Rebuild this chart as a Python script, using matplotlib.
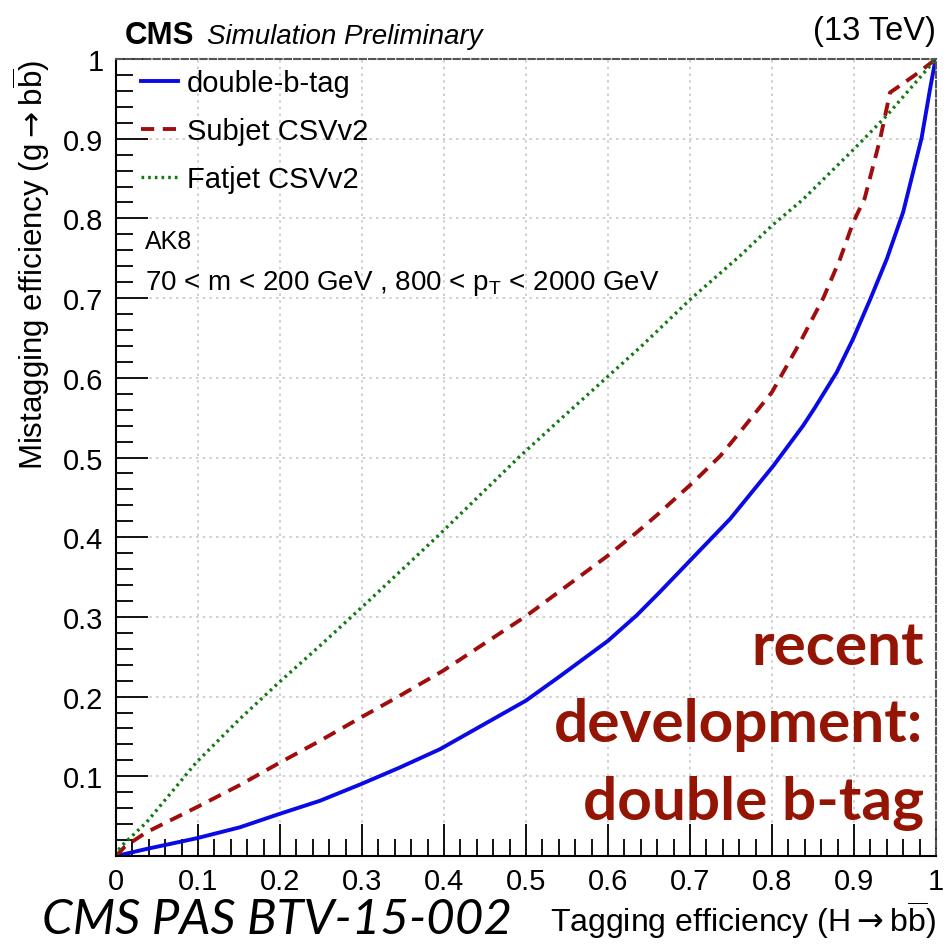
import numpy as np
import matplotlib
matplotlib.use('Agg')
import matplotlib.pyplot as plt
from matplotlib.ticker import MultipleLocator, FuncFormatter

plt.rcParams['font.family'] = ['Liberation Sans', 'DejaVu Sans']

# ROC curves: tagging efficiency (H->bb) vs mistag efficiency (g->bb)
dbt_x = [0, 0.037, 0.098, 0.151, 0.199, 0.249, 0.299, 0.346, 0.395, 0.5, 0.542, 0.6,
         0.635, 0.663, 0.749, 0.802, 0.838, 0.852, 0.879, 0.899, 0.92, 0.94, 0.96,
         0.9825, 0.9927, 0.9988, 1.0]
dbt_y = [0, 0.0088, 0.0222, 0.036, 0.0527, 0.0694, 0.0903, 0.111, 0.134, 0.195, 0.226, 0.270,
         0.302, 0.331, 0.423, 0.490, 0.540, 0.562, 0.607, 0.649, 0.699, 0.749, 0.808,
         0.901, 0.962, 0.996, 1.0]

subjet_x = [0, 0.011, 0.037, 0.098, 0.151, 0.199, 0.249, 0.299, 0.346, 0.399, 0.5, 0.6,
            0.635, 0.66, 0.704, 0.737, 0.761, 0.800, 0.834, 0.863, 0.883, 0.899, 0.913,
            0.932, 0.938, 0.944, 0.956, 0.976, 1.0]
subjet_y = [0, 0.012, 0.0297, 0.061, 0.089, 0.1167, 0.1447, 0.174, 0.201, 0.2325, 0.301, 0.377,
            0.406, 0.428, 0.469, 0.502, 0.532, 0.582, 0.644, 0.701, 0.749, 0.795, 0.825,
            0.9, 0.929, 0.958, 0.9665, 0.981, 1.0]

fatjet_x = [0, 0.005, 0.037, 0.098, 0.151, 0.199, 0.249, 0.306, 0.391, 0.491, 0.542, 0.639,
            0.701, 0.761, 0.800, 0.838, 0.900, 0.94, 1.0]
fatjet_y = [0, 0.011, 0.042, 0.1175, 0.172, 0.218, 0.264, 0.318, 0.40, 0.50, 0.548, 0.638,
            0.699, 0.753, 0.791, 0.824, 0.887, 0.929, 1.0]

labels = ['double-b-tag', 'Subjet CSVv2', 'Fatjet CSVv2']

fig = plt.figure(figsize=(9.46, 9.45), dpi=100)
ax = fig.add_axes([0.1226, 0.0931, 0.8668, 0.8434])

ax.plot(dbt_x, dbt_y, color='#0a0ae6', lw=2.8, ls='-', label=labels[0])
ax.plot(subjet_x, subjet_y, color='#a00d0d', lw=2.8, ls=(0, (3.4, 2.2)), label=labels[1])
ax.plot(fatjet_x, fatjet_y, color='#137a13', lw=2.4, ls=(0, (0.8, 1.2)), label=labels[2])

ax.set_xlim(0, 1)
ax.set_ylim(0, 1)

# ROOT style axes
ax.xaxis.set_major_locator(MultipleLocator(0.1))
ax.xaxis.set_minor_locator(MultipleLocator(0.02))
ax.yaxis.set_major_locator(MultipleLocator(0.1))
ax.yaxis.set_minor_locator(MultipleLocator(0.02))
ax.xaxis.set_major_formatter(FuncFormatter(lambda v, p: '%g' % round(v, 2)))
ax.yaxis.set_major_formatter(FuncFormatter(lambda v, p: '' if abs(v) < 1e-6 else '%g' % round(v, 2)))
ax.tick_params(which='major', direction='in', length=23, width=1.3, labelsize=21, pad=9,
               top=False, right=False)
ax.tick_params(which='minor', direction='in', length=12, width=1.3, top=False, right=False)
ax.tick_params(axis='x', which='major', pad=8)
ax.grid(True, which='major', color='#c8c8c8', ls=(0, (1.5, 2.5)), lw=1.2)

for s in ['left', 'bottom']:
    ax.spines[s].set_linewidth(1.5)
for s in ['top', 'right']:
    ax.spines[s].set_color('#555555')
    ax.spines[s].set_linestyle((0, (3, 1.5)))
    ax.spines[s].set_linewidth(1.5)

ax.set_xlabel('Tagging efficiency (H$\\rightarrow$b$\\overline{\\mathregular{b}}$)', fontsize=23,
              loc='right', labelpad=2)
ax.set_ylabel('Mistagging efficiency (g$\\rightarrow$b$\\overline{\\mathregular{b}}$)', fontsize=22.5,
              loc='top', labelpad=8)

leg = ax.legend(loc='upper left', bbox_to_anchor=(0.031, 0.9875), frameon=False, fontsize=21,
                handlelength=1.27, handletextpad=0.29, labelspacing=0.69, borderaxespad=0,
                borderpad=0)

ax.text(0.0354, 0.772, 'AK8', transform=ax.transAxes, fontsize=18, va='center')
ax.text(0.0354, 0.72, '70 < m < 200 GeV , 800 < p$_{\\mathregular{T}}$ < 2000 GeV',
        transform=ax.transAxes, fontsize=20, va='center')

ax.text(0.985, 0.047, 'recent\ndevelopment:\ndouble b-tag', transform=ax.transAxes,
        fontsize=43.5, fontweight='bold', family=['Lato', 'DejaVu Sans'], color='#951505',
        ha='right', va='baseline', multialignment='right', linespacing=1.53)

fig.text(0.132, 0.953, 'CMS', fontsize=22.5, fontweight='bold', va='baseline')
fig.text(0.219, 0.953, 'Simulation Preliminary', fontsize=20, style='italic', va='baseline')
fig.text(0.989, 0.958, '(13 TeV)', fontsize=23.5, ha='right', va='baseline')

fig.text(0.044, 0.012, 'CMS PAS BTV-15-002', fontsize=35.5, style='italic',
         family=['Lato', 'DejaVu Sans'], va='baseline')

fig.savefig('out.png', dpi=100)
